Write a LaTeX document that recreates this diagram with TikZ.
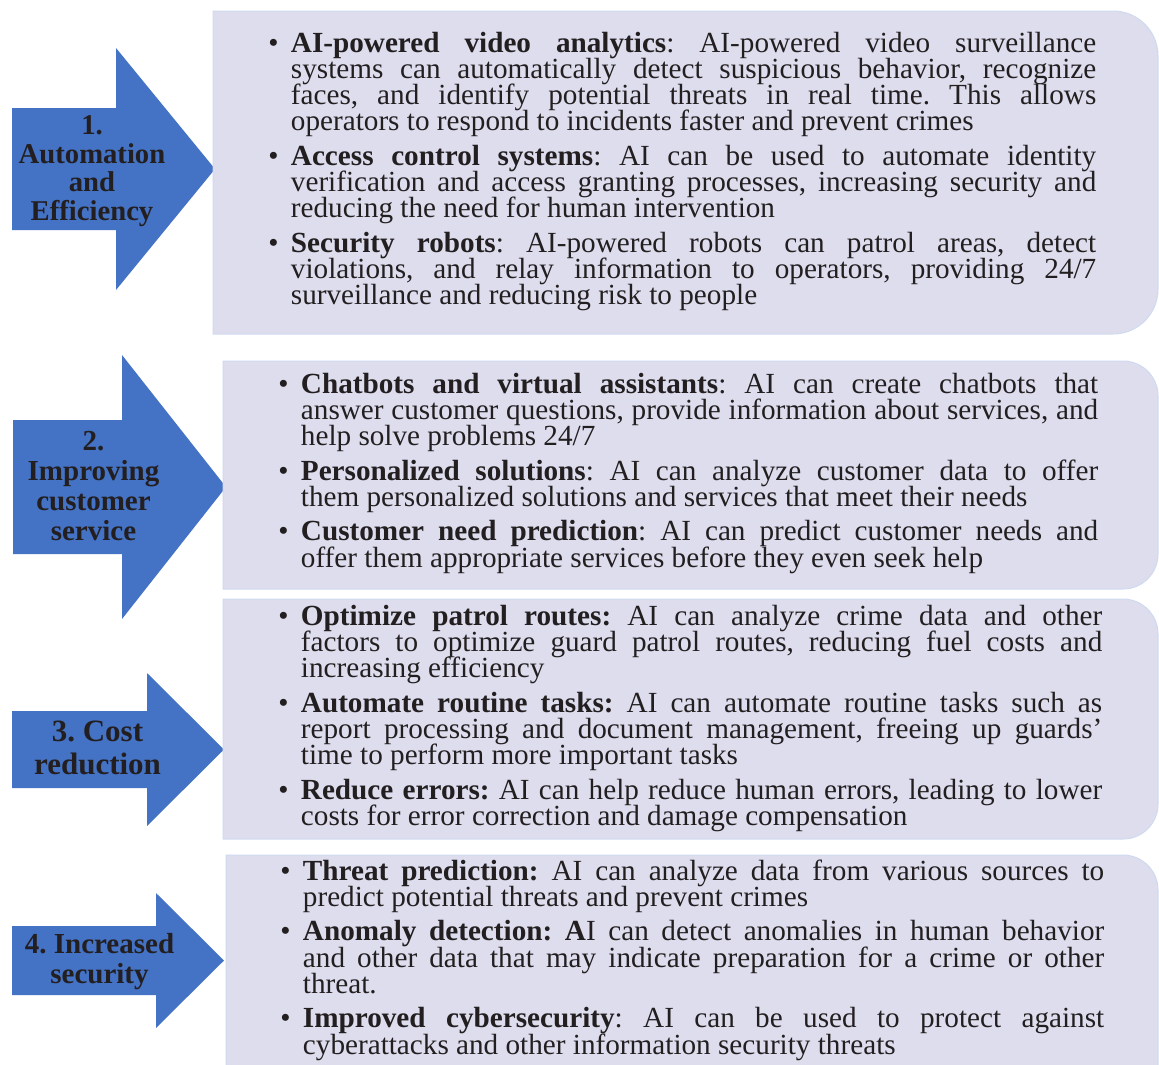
\documentclass[tikz,border=0pt]{standalone}
\usepackage{fontspec}
\setmainfont{Liberation Serif}

\definecolor{arrowblue}{RGB}{68,114,196}
\definecolor{boxfill}{RGB}{221,221,238}
\definecolor{boxline}{RGB}{207,218,240}
\definecolor{inkblack}{RGB}{35,31,32}

\frenchspacing
\hyphenpenalty=10000
\exhyphenpenalty=10000
\tolerance=9000
\newcommand{\bitem}{\hangindent=17pt\hangafter=1\noindent\makebox[17pt][l]{\textbullet}}

\begin{document}
\begin{tikzpicture}[x=0.75pt,y=-0.75pt]

      \clip (0,0) rectangle (1159,1064);
      \fill[white] (0,0) rectangle (1159,1064);

      \begin{scope}[fill=arrowblue]
        \fill (12,108) -- (116,108) -- (116,48) -- (215,169) -- (116,290) -- (116,230) -- (12,230) -- cycle;
        \fill (13,420) -- (122,420) -- (122,355) -- (226,487) -- (122,619) -- (122,554) -- (13,554) -- cycle;
        \fill (12,711) -- (147,711) -- (147,673) -- (224,749.5) -- (147,826) -- (147,788) -- (12,788) -- cycle;
        \fill (12,926) -- (156,926) -- (156,893) -- (224,960.5) -- (156,1028) -- (156,995) -- (12,995) -- cycle;
      \end{scope}

      \begin{scope}[fill=boxfill, draw=boxline, line width=0.75pt]
        \filldraw (213,11) -- (1113,11) .. controls (1137.9,11) and (1158,31.1) .. (1158,56)
          -- (1158,289) .. controls (1158,313.9) and (1137.9,334) .. (1113,334) -- (213,334) -- cycle;
        \filldraw (223,361) -- (1123,361) .. controls (1142.3,361) and (1158,376.7) .. (1158,396)
          -- (1158,554) .. controls (1158,573.3) and (1142.3,589) .. (1123,589) -- (223,589) -- cycle;
        \filldraw (223,599) -- (1123,599) .. controls (1142.3,599) and (1158,614.7) .. (1158,634)
          -- (1158,804) .. controls (1158,823.3) and (1142.3,839) .. (1123,839) -- (223,839) -- cycle;
        \filldraw (226,855) -- (1123,855) .. controls (1142.3,855) and (1158,870.7) .. (1158,890)
          -- (1158,1080) -- (226,1080) -- cycle;
      \end{scope}

      \begin{scope}[every node/.style={align=center, inner sep=0pt, text=inkblack}]
        \node[font=\fontsize{21.5pt}{21.5pt}\selectfont\bfseries] (aut) at (92,171) {1.\\Automation\\and\\Efficiency};
        \node[font=\fontsize{21.75pt}{22.5pt}\selectfont\bfseries] (cust) at (93.5,486) {2.\\Improving\\customer\\service};
        \node[font=\fontsize{23.25pt}{24.75pt}\selectfont\bfseries] (cost) at (97.5,748) {3. Cost\\reduction};
        \node[font=\fontsize{21.75pt}{22.5pt}\selectfont\bfseries] (sec) at (99.5,962) {4. Increased\\security};
      \end{scope}

      \begin{scope}[every node/.style={anchor=base west, inner sep=0pt, align=justify, text=inkblack,
          font=\fontsize{21.9pt}{19.7pt}\selectfont}]
        \node[text width=621pt] (autitems) at (268,52) {\setlength{\parskip}{6.2pt}\lineskiplimit=-100pt
          \bitem\textbf{AI-powered video analytics}: AI-powered video surveillance\linebreak systems can automatically detect suspicious behavior, recognize\linebreak faces, and identify potential threats in real time. This allows\linebreak operators to respond to incidents faster and prevent crimes\par
          \bitem\textbf{Access control systems}: AI can be used to automate identity\linebreak verification and access granting processes, increasing security and\linebreak reducing the need for human intervention\par
          \bitem\textbf{Security robots}: AI-powered robots can patrol areas, detect\linebreak violations, and relay information to operators, providing 24/7\linebreak surveillance and reducing risk to people\par};
        \node[text width=615pt] (custitems) at (278,393) {\setlength{\parskip}{6.2pt}\lineskiplimit=-100pt
          \bitem\textbf{Chatbots and virtual assistants}: AI can create chatbots that\linebreak answer customer questions, provide information about services, and\linebreak help solve problems 24/7\par
          \bitem\textbf{Personalized solutions}: AI can analyze customer data to offer\linebreak them personalized solutions and services that meet their needs\par
          \bitem\textbf{Customer need prediction}: AI can predict customer needs and\linebreak offer them appropriate services before they even seek help\par};
        \node[text width=618pt] (costitems) at (278,625) {\setlength{\parskip}{6.2pt}\lineskiplimit=-100pt
          \bitem\textbf{Optimize patrol routes:} AI can analyze crime data and other\linebreak factors to optimize guard patrol routes, reducing fuel costs and\linebreak increasing efficiency\par
          \bitem\textbf{Automate routine tasks:} AI can automate routine tasks such as\linebreak report processing and document management, freeing up guards’\linebreak time to perform more important tasks\par
          \bitem\textbf{Reduce errors:} AI can help reduce human errors, leading to lower\linebreak costs for error correction and damage compensation\par};
        \node[text width=618pt] (secitems) at (280,880) {\setlength{\parskip}{6.2pt}\lineskiplimit=-100pt
          \bitem\textbf{Threat prediction:} AI can analyze data from various sources to\linebreak predict potential threats and prevent crimes\par
          \bitem\textbf{Anomaly detection: A}I can detect anomalies in human behavior\linebreak and other data that may indicate preparation for a crime or other\linebreak threat.\par
          \bitem\textbf{Improved cybersecurity}: AI can be used to protect against\linebreak cyberattacks and other information security threats\par};
      \end{scope}

    \end{tikzpicture}
\end{document}
